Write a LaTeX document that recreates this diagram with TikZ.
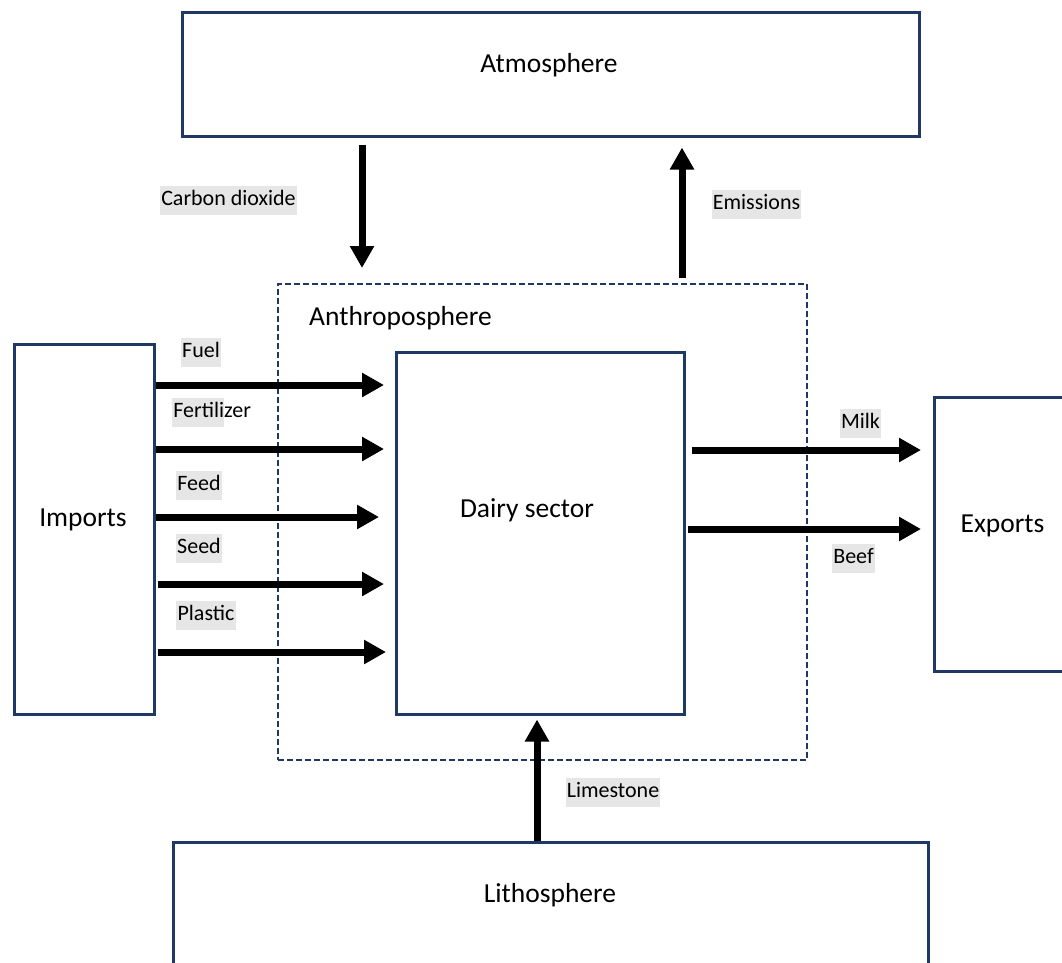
\documentclass[tikz,border=0pt]{standalone}
\usepackage{fontspec}
\setmainfont{Carlito}
\usetikzlibrary{arrows.meta}
\definecolor{boxblue}{RGB}{31,56,100}
\definecolor{hlgray}{RGB}{230,230,230}
\newcommand\hlpart[1]{{\setlength{\fboxsep}{0pt}\colorbox{hlgray}{\rule[-9.5pt]{0pt}{29pt}#1}}}
\begin{document}
\begin{tikzpicture}[x=1pt,y=-1pt,
  box/.style={draw=boxblue, line width=2.5pt, anchor=north west, inner sep=0pt},
  big/.style={font=\fontsize{27.5}{33}\selectfont, inner sep=0pt},
  lbl/.style={fill=hlgray, font=\fontsize{22}{26}\selectfont, text height=16pt, text depth=6pt, inner xsep=1.2pt, inner ysep=3.5pt},
  flow/.style={line width=7pt, -{Triangle[length=22pt,width=23pt]}},
]
\clip (0,0) rectangle (1062,962);
% boxes
\node[box, minimum width=737pt, minimum height=124pt] (atm) at (181,11) {};
\node[box, minimum width=140pt, minimum height=370pt] (imports) at (13,343) {};
\node[box, minimum width=288pt, minimum height=362pt] (dairy) at (395,351) {};
\node[box, minimum width=160pt, minimum height=274pt] (exports) at (933,396) {};
\node[box, minimum width=755pt, minimum height=200pt] (litho) at (172,841) {};
\node[draw=boxblue, line width=2.3pt, dash pattern=on 6pt off 3pt, anchor=north west, inner sep=0pt, minimum width=529pt, minimum height=476pt] (anthro) at (277,283) {};
% box texts
\node[big, anchor=base] (atmtxt) at (549,72) {Atmosphere};
\node[big, anchor=base] (imptxt) at (83,526) {Imports};
\node[big, anchor=base] (dairytxt) at (527,517) {Dairy sector};
\node[big, anchor=base] (exptxt) at (1002.5,532) {Exports};
\node[big, anchor=base] (lithotxt) at (550,902) {Lithosphere};
\node[big, anchor=base west] (anthrotxt) at (309,325) {Anthroposphere};
% import arrows
\draw[flow] (imports.east |- 0,385) -- ([xshift=-11pt]dairy.west |- 0,385);
\draw[flow] (imports.east |- 0,449) -- ([xshift=-11pt]dairy.west |- 0,449);
\draw[flow] (imports.east |- 0,517) -- ([xshift=-16pt]dairy.west |- 0,517);
\draw[flow] ([xshift=2pt]imports.east |- 0,584) -- ([xshift=-11pt]dairy.west |- 0,584);
\draw[flow] ([xshift=2pt]imports.east |- 0,652) -- ([xshift=-9pt]dairy.west |- 0,652);
% export arrows
\draw[flow] ([xshift=6pt]dairy.east |- 0,450) -- ([xshift=-12pt]exports.west |- 0,450);
\draw[flow] ([xshift=2pt]dairy.east |- 0,529) -- ([xshift=-12pt]exports.west |- 0,529);
% vertical arrows
\draw[flow] ([yshift=-7pt]atm.south -| 362,0) -- ([yshift=15pt]anthro.north -| 362,0);
\draw[flow] ([yshift=5pt]anthro.north -| 682,0) -- ([yshift=-10pt]atm.south -| 682,0);
\draw[flow] (litho.north -| 537,0) -- ([yshift=-4pt]dairy.south -| 537,0);
% labels
\node[lbl] (lfuel) at (201,352.5) {Fuel};
\node[font=\fontsize{22}{26}\selectfont, inner sep=0pt, anchor=base west] (lfert) at (172,417) {\hlpart{\hspace{1.2pt}Fertili}zer};
\node[lbl] (lfeed) at (199,485.5) {Feed};
\node[lbl] (lseed) at (199,548) {Seed};
\node[lbl] (lplastic) at (206,615.5) {Plastic};
\node[lbl] (lmilk) at (860.5,423.5) {Milk};
\node[lbl] (lbeef) at (853.5,558.5) {Beef};
\node[lbl] (lco2) at (228.5,200) {Carbon dioxide};
\node[lbl] (lemis) at (756.5,204.5) {Emissions};
\node[lbl] (llime) at (613,792.5) {Limestone};
\end{tikzpicture}
\end{document}
